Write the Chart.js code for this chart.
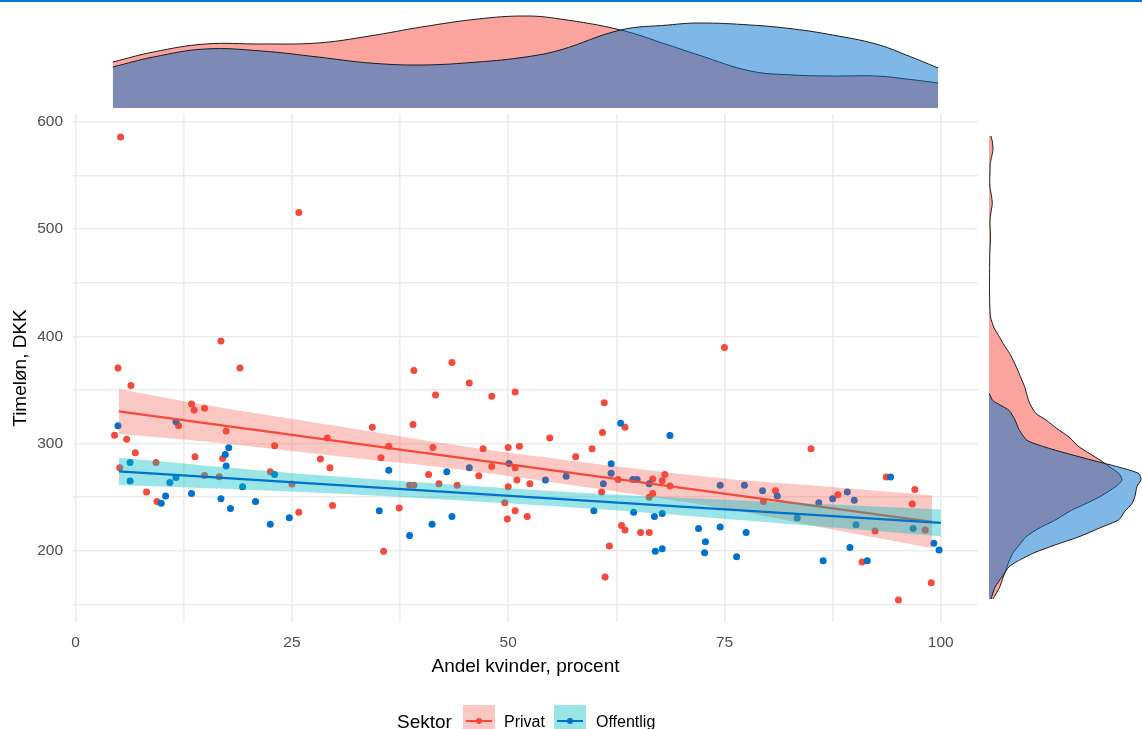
<!DOCTYPE html>
<html>
<head>
<meta charset="utf-8">
<script src="https://cdn.jsdelivr.net/npm/chart.js@4"></script>
<style>
html,body{margin:0;padding:0;background:#fff;width:1142px;height:729px;overflow:hidden;font-family:"Liberation Sans",Arial,sans-serif;}
canvas{position:absolute;left:0;top:0;}
#topline{position:absolute;left:0;top:0;width:1142px;height:2px;background:#0078D4;}
.txt{position:absolute;white-space:nowrap;color:#000;}
.key{position:absolute;width:32px;height:32px;}
.kline{position:absolute;left:3px;right:3px;top:15px;height:2.4px;}
.kdot{position:absolute;left:13px;top:13px;width:6.4px;height:6.4px;border-radius:50%;}
</style>
</head>
<body>
<canvas id="main" width="1142" height="729"></canvas>
<canvas id="top" width="1142" height="729"></canvas>
<canvas id="right" width="1142" height="729"></canvas>
<div id="topline"></div>
<div class="txt" style="left:397px;top:712px;font-size:19px;line-height:19px;">Sektor</div>
<div class="key" style="left:463px;top:705px;background:rgb(252,200,196);"><div class="kline" style="background:#F5493B"></div><div class="kdot" style="background:#F5493B"></div></div>
<div class="txt" style="left:504px;top:714px;font-size:16px;line-height:16px;">Privat</div>
<div class="key" style="left:554px;top:705px;background:rgb(153,229,230);"><div class="kline" style="background:#0071CD"></div><div class="kdot" style="background:#0071CD"></div></div>
<div class="txt" style="left:596px;top:714px;font-size:16px;line-height:16px;">Offentlig</div>
<script>
// ---------- data ----------
const xTickLabels = [0, 25, 50, 75, 100];
const yTickLabels = [200, 300, 400, 500, 600];

const privatX = [5.2,25.8,4.9,16.8,19.0,6.4,13.4,13.7,14.9,11.9,4.5,5.9,17.4,23.0,29.1,6.9,5.1,9.3,8.2,9.4,13.8,14.9,16.6,17.0,22.5,25.8,25.0,28.3,29.4,29.7,34.3,39.1,41.6,43.5,45.5,48.1,50.8,61.1,63.5,39.0,36.2,35.3,41.3,47.1,50.0,51.3,54.8,57.8,59.7,60.9,60.8,62.7,63.1,63.5,65.3,66.3,61.7,61.2,46.6,48.1,50.8,51.0,50.0,52.5,40.8,42.0,44.1,38.6,39.1,37.4,35.6,49.6,49.9,50.8,52.2,75.0,85.0,66.7,68.1,67.8,66.7,66.3,68.7,80.9,79.5,88.1,90.9,92.4,93.7,97.0,96.7,98.2,98.9,95.1];
const privatY = [586,515.5,370.6,395.8,370.6,354.2,336.8,331.4,333,316.5,307.8,304.1,311.6,297.9,305.3,291.4,277.4,282.4,254.7,246,287.6,270.3,269,286.1,273.6,236,262.2,285.5,277.4,242.3,315.3,368.2,345.4,375.6,356.6,344.2,348,338,315.3,317.8,297.6,286.7,296.4,295.1,296.4,297.6,305.1,287.6,295.1,310.4,254.7,266.5,223.6,219.3,217.1,217.1,204.3,175.4,269.9,278.6,277.4,265.9,259.7,262.4,271.2,262.4,261.2,261,261,239.8,199.4,244.7,229.5,237.3,232,389.6,295.1,267,271.2,265.2,253.5,249.8,260.3,255.9,246,252.2,189.4,218.3,268.7,257.2,243.5,219.3,170.1,154];

const offentligX = [4.9,11.6,17.7,6.3,6.3,9.9,10.4,10.9,11.6,13.4,16.8,17.9,17.3,17.4,19.3,20.8,22.5,23.0,24.7,36.2,63.0,61.9,61.9,61.0,64.4,64.9,64.5,45.5,50.1,54.3,56.7,42.9,35.1,38.6,41.2,43.5,59.9,68.7,66.3,66.9,67.8,67.0,67.8,72.0,72.8,72.7,74.5,74.5,77.3,76.4,77.5,79.4,81.1,83.4,85.9,87.5,89.2,90.0,90.2,89.5,86.4,91.5,94.2,96.8,99.2,99.8];
const offentligY = [316.5,320.3,296,282.4,265,244.4,251,263.7,268.4,253.5,248.5,239.5,289.9,279,259.7,246,224.6,271.2,230.8,275,319,281.1,272.4,262.4,266.5,266.5,236,277.4,281.5,265.9,269.6,273.6,237.3,214.3,224.6,232,237.3,307.6,262.4,232,234.8,199.4,201.8,220.8,208.4,198.1,222.1,261.2,261.2,194.4,217.1,255.9,251,230.5,244.7,248.5,254.7,247.2,224.2,203.1,190.7,190.7,268.7,220.8,206.9,200.6];

// fitted lines and confidence bands
const fitPrivatX = [5, 99];
const fitPrivatY = [330, 227];
const fitOffentligX = [5, 100];
const fitOffentligY = [274, 226];

const bandPrivatX  = [5, 15, 30, 45, 60, 75, 87, 99];
const bandPrivatHi = [351, 336, 316.6, 297.2, 281.2, 267.3, 259.6, 251.5];
const bandPrivatLo = [309, 302, 288.6, 275.2, 258.2, 239.3, 220.6, 202.5];

const bandOffentligX  = [5, 20, 35, 50, 65, 80, 90, 100];
const bandOffentligHi = [286.7, 275.9, 266.4, 258.3, 251.2, 245.6, 242.1, 238.5];
const bandOffentligLo = [261.3, 256.9, 251.4, 244.3, 236.2, 226.6, 220.1, 213.5];

// marginal density (top), heights
const densTopX = [4.3, 9, 15, 21.5, 28, 34, 40, 46.5, 52, 56, 63, 68.5, 72, 78, 83, 87.5, 92.5, 96, 99.7];
const densTopPrivat    = [46, 56, 64, 64, 65, 72, 81, 89, 92, 89, 78, 63, 53, 37, 33, 32, 32, 29, 25];
const densTopOffentlig = [41, 51, 59, 57, 51, 45, 43, 46, 51, 58, 78, 83, 85, 83, 79, 73, 64, 53, 40];

// marginal density (right), widths
const densRightPrivatY = [155,166,175,182,190,198,205,213,221,229,237,244,251,260,266,272,278,284,291,297,306,314,322,328,337,345,353,361,368,376,384,392,399,408,418,424,435,446,461,477,485,493,500,508,516,524,531,539,546,553,561,567,574,581,587];
const densRightPrivatW = [4,10.7,14,17,20,24,30,37,50,67,81,97,112,127,133,130,121,112,100,90,80,68,57,47,41,38,35.7,32,29,25,20.7,15,10.7,5,1.5,1,0.6,0.5,0.6,0.8,1.2,1.5,1.2,1,2,3.3,2.5,1,0.7,1,1.2,2.5,4,3.5,2];
const densRightOffentligY = [155,166,177,185,190,198,205,213,221,229,237,244,251,260,266,272,278,284,291,297,303,313,322,331,340,347];
const densRightOffentligW = [2,6,14,20,28,45,65,90,110,130,136,143,146,148,152,150,130,105,77,55,38,30,26,20,4,0];

// ---------- styles ----------
const RED = '#F5493B';
const BLUE = '#0071CD';
const FONT = '"Liberation Sans", Arial, sans-serif';
Chart.defaults.font.family = FONT;

function pts(xs, ys) { return xs.map((x, i) => ({x: x, y: ys[i]})); }
function ptsH(ys, ws) { return ys.map((y, i) => ({x: ws[i], y: y})); }
const noPlugins = {legend: {display: false}, tooltip: {enabled: false}};

// ---------- main scatter ----------
new Chart(document.getElementById('main'), {
  type: 'scatter',
  data: {
    datasets: [
      {label: 'Privat', data: pts(privatX, privatY), backgroundColor: RED, pointRadius: 3.5, pointBorderWidth: 0, order: 6},
      {label: 'Offentlig', data: pts(offentligX, offentligY), backgroundColor: BLUE, pointRadius: 3.5, pointBorderWidth: 0, order: 5},
      {type: 'line', data: pts(bandPrivatX, bandPrivatHi), borderWidth: 0, borderColor: 'rgba(0,0,0,0)', pointRadius: 0, fill: '+1', backgroundColor: 'rgba(245,73,59,0.3)', tension: 0.3, order: 4},
      {type: 'line', data: pts(bandPrivatX, bandPrivatLo), borderWidth: 0, borderColor: 'rgba(0,0,0,0)', pointRadius: 0, fill: false, tension: 0.3, order: 4},
      {type: 'line', data: pts(fitPrivatX, fitPrivatY), borderWidth: 2.3, borderColor: RED, pointRadius: 0, fill: false, order: 3},
      {type: 'line', data: pts(bandOffentligX, bandOffentligHi), borderWidth: 0, borderColor: 'rgba(0,0,0,0)', pointRadius: 0, fill: '+1', backgroundColor: 'rgba(0,191,196,0.4)', tension: 0.3, order: 2},
      {type: 'line', data: pts(bandOffentligX, bandOffentligLo), borderWidth: 0, borderColor: 'rgba(0,0,0,0)', pointRadius: 0, fill: false, tension: 0.3, order: 2},
      {type: 'line', data: pts(fitOffentligX, fitOffentligY), borderWidth: 2.3, borderColor: BLUE, pointRadius: 0, fill: false, order: 1}
    ]
  },
  options: {
    responsive: false,
    animation: false,
    events: [],
    layout: {padding: {left: 0, right: 164, top: 114, bottom: 27}},
    plugins: noPlugins,
    scales: {
      x: {
        type: 'linear', min: -0.3, max: 104.3,
        afterFit: function (s) { s.height = 80; },
        border: {display: false},
        grid: {color: '#EBEBEB', lineWidth: 1.6, drawTicks: false},
        ticks: {
          stepSize: 12.5, includeBounds: false, autoSkip: false, maxRotation: 0, padding: 11,
          color: '#4D4D4D', font: {size: 15.5},
          callback: function (v) { return xTickLabels.includes(v) ? String(v) : ''; }
        },
        title: {display: true, text: 'Andel kvinder, procent', color: '#000', font: {size: 19}, padding: {top: 0, bottom: 24}}
      },
      y: {
        type: 'linear', min: 133.5, max: 607.5,
        afterFit: function (s) { s.width = 73; },
        border: {display: false},
        grid: {color: '#EBEBEB', lineWidth: 1.6, drawTicks: false},
        ticks: {
          stepSize: 50, includeBounds: false, autoSkip: false, padding: 10,
          color: '#4D4D4D', font: {size: 15.5},
          callback: function (v) { return yTickLabels.includes(v) ? String(v) : ''; }
        },
        title: {display: true, text: 'Timeløn, DKK', color: '#000', font: {size: 19}, padding: {top: 9, bottom: 0}}
      }
    }
  }
});

// ---------- top marginal density ----------
new Chart(document.getElementById('top'), {
  type: 'line',
  data: {
    datasets: [
      {data: pts(densTopX, densTopPrivat), fill: 'origin', backgroundColor: 'rgba(245,73,59,0.5)', borderColor: '#1a1a1a', borderWidth: 1, pointRadius: 0, tension: 0.4, order: 2},
      {data: pts(densTopX, densTopOffentlig), fill: 'origin', backgroundColor: 'rgba(0,113,205,0.5)', borderColor: '#1a1a1a', borderWidth: 1, pointRadius: 0, tension: 0.4, order: 1}
    ]
  },
  options: {
    responsive: false, animation: false, events: [],
    layout: {padding: {left: 73, right: 164, top: 8, bottom: 621}},
    plugins: noPlugins,
    scales: {
      x: {type: 'linear', min: -0.3, max: 104.3, display: false},
      y: {type: 'linear', min: 0, max: 100, display: false}
    }
  }
});

// ---------- right marginal density ----------
new Chart(document.getElementById('right'), {
  type: 'line',
  data: {
    datasets: [
      {data: ptsH(densRightPrivatY, densRightPrivatW), fill: 'origin', backgroundColor: 'rgba(245,73,59,0.5)', borderColor: '#1a1a1a', borderWidth: 1, pointRadius: 0, tension: 0.2, order: 2},
      {data: ptsH(densRightOffentligY, densRightOffentligW), fill: 'origin', backgroundColor: 'rgba(0,113,205,0.5)', borderColor: '#1a1a1a', borderWidth: 1, pointRadius: 0, tension: 0.2, order: 1}
    ]
  },
  options: {
    indexAxis: 'y',
    responsive: false, animation: false, events: [],
    layout: {padding: {left: 989, right: 0, top: 114, bottom: 107}},
    plugins: noPlugins,
    scales: {
      x: {type: 'linear', min: 0, max: 153, display: false},
      y: {type: 'linear', min: 133.5, max: 607.5, display: false}
    }
  }
});
</script>
</body>
</html>
